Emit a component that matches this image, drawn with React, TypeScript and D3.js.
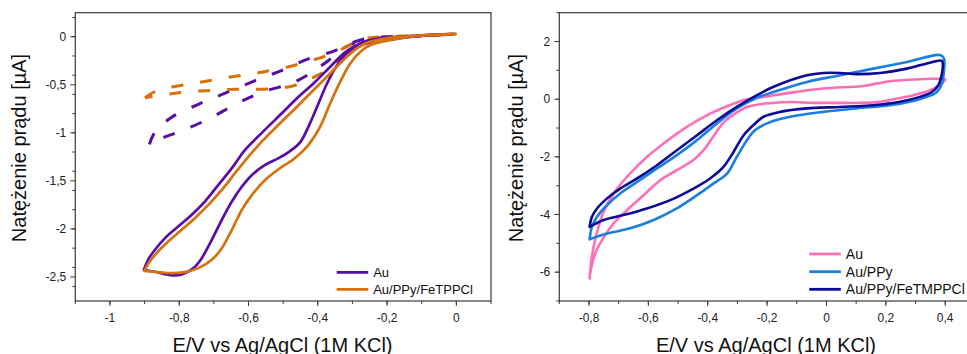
import React from 'react';
import * as d3 from 'd3';

type Pt = [number, number];

// ---------- tick labels ----------
const leftXTicks = [-1, -0.8, -0.6, -0.4, -0.2, 0];
const leftXTickLabels = ['-1', '-0,8', '-0,6', '-0,4', '-0,2', '0'];
const leftYTicks = [0, -0.5, -1, -1.5, -2, -2.5];
const leftYTickLabels = ['0', '-0,5', '-1', '-1,5', '-2', '-2,5'];
const rightXTicks = [-0.8, -0.6, -0.4, -0.2, 0, 0.2, 0.4];
const rightXTickLabels = ['-0,8', '-0,6', '-0,4', '-0,2', '0', '0,2', '0,4'];
const rightYTicks = [2, 0, -2, -4, -6];
const rightYTickLabels = ['2', '0', '-2', '-4', '-6'];

const leftLegend = ['Au', 'Au/PPy/FeTPPCl'];
const rightLegend = ['Au', 'Au/PPy', 'Au/PPy/FeTMPPCl'];
const yTitle = 'Natężenie prądu [µA]';
const xTitle = 'E/V vs Ag/AgCl (1M KCl)';

// ---------- left panel data ----------
const leftAuSolid: Pt[] = [
  [-0.902, -2.425], [-0.89, -2.321], [-0.87, -2.217], [-0.841, -2.096], [-0.803, -1.975],
  [-0.764, -1.853], [-0.726, -1.715], [-0.687, -1.541], [-0.648, -1.368], [-0.61, -1.178],
  [-0.56, -0.995], [-0.509, -0.815], [-0.46, -0.64], [-0.412, -0.484], [-0.364, -0.312],
  [-0.325, -0.173], [-0.296, -0.104], [-0.267, -0.052], [-0.219, -0.017], [-0.123, 0.007],
  [-0.007, 0.028],
  [-0.1, 0.012], [-0.2, -0.035], [-0.258, -0.069], [-0.287, -0.104], [-0.316, -0.173],
  [-0.344, -0.294], [-0.373, -0.484], [-0.402, -0.728], [-0.427, -0.936], [-0.451, -1.1],
  [-0.48, -1.19], [-0.513, -1.264], [-0.552, -1.334], [-0.59, -1.438], [-0.619, -1.559],
  [-0.648, -1.715], [-0.677, -1.905], [-0.706, -2.113], [-0.735, -2.304], [-0.759, -2.408],
  [-0.784, -2.46], [-0.812, -2.484], [-0.832, -2.477], [-0.87, -2.446], [-0.902, -2.425],
];
const leftFeSolid: Pt[] = [
  [-0.901, -2.436], [-0.885, -2.339], [-0.861, -2.235], [-0.832, -2.131], [-0.793, -2.009],
  [-0.755, -1.888], [-0.716, -1.75], [-0.677, -1.594], [-0.639, -1.42], [-0.6, -1.247],
  [-0.557, -1.074], [-0.509, -0.9], [-0.46, -0.728], [-0.412, -0.554], [-0.364, -0.38],
  [-0.316, -0.208], [-0.287, -0.121], [-0.258, -0.062], [-0.2, -0.017], [-0.104, 0.01],
  [-0.002, 0.028],
  [-0.1, 0.015], [-0.2, -0.04], [-0.248, -0.086], [-0.277, -0.156], [-0.306, -0.277],
  [-0.335, -0.468], [-0.364, -0.692], [-0.393, -0.936], [-0.428, -1.13], [-0.468, -1.27],
  [-0.506, -1.36], [-0.552, -1.49], [-0.59, -1.646], [-0.619, -1.801], [-0.648, -2.009],
  [-0.677, -2.2], [-0.706, -2.321], [-0.745, -2.408], [-0.784, -2.449], [-0.822, -2.46],
  [-0.861, -2.449], [-0.901, -2.436],
];
const leftAuDashed: Pt[] = [
  [-0.886, -1.12], [-0.875, -1.022], [-0.85, -0.92], [-0.822, -0.838], [-0.745, -0.703],
  [-0.668, -0.588], [-0.586, -0.464], [-0.509, -0.357], [-0.431, -0.235], [-0.354, -0.149],
  [-0.3, -0.06], [-0.258, -0.017], [-0.2, 0.0], [-0.1, 0.007], [-0.005, 0.028],
  [-0.1, 0.01], [-0.2, -0.005], [-0.27, -0.04], [-0.31, -0.09], [-0.34, -0.15],
  [-0.37, -0.25], [-0.402, -0.33], [-0.43, -0.4], [-0.465, -0.468], [-0.489, -0.502],
  [-0.559, -0.575], [-0.636, -0.7], [-0.708, -0.842], [-0.786, -0.97], [-0.851, -1.057],
  [-0.88, -1.115],
];
const leftFeDashed: Pt[] = [
  [-0.899, -0.634], [-0.875, -0.58], [-0.851, -0.544], [-0.817, -0.52], [-0.745, -0.478],
  [-0.658, -0.422], [-0.571, -0.374], [-0.484, -0.312], [-0.398, -0.225], [-0.349, -0.16],
  [-0.306, -0.086], [-0.258, -0.017], [-0.2, 0.0], [-0.1, 0.01], [-0.002, 0.028],
  [-0.1, 0.012], [-0.2, -0.01], [-0.26, -0.05], [-0.3, -0.12], [-0.33, -0.22],
  [-0.359, -0.32], [-0.4, -0.4], [-0.437, -0.465], [-0.47, -0.51], [-0.509, -0.536],
  [-0.542, -0.544], [-0.595, -0.547], [-0.634, -0.547], [-0.687, -0.554], [-0.721, -0.561],
  [-0.779, -0.572], [-0.812, -0.588], [-0.865, -0.616], [-0.899, -0.634],
];

// ---------- right panel data ----------
const rightAu: Pt[] = [
  [-0.798, -6.215], [-0.792, -5.58], [-0.782, -5.0], [-0.768, -4.43], [-0.751, -3.91],
  [-0.717, -3.27], [-0.672, -2.69], [-0.616, -2.11], [-0.549, -1.54], [-0.47, -0.96],
  [-0.392, -0.5], [-0.324, -0.2], [-0.279, -0.035], [-0.212, 0.081], [-0.1, 0.254],
  [-0.01, 0.37], [0.125, 0.46], [0.17, 0.543], [0.214, 0.624], [0.293, 0.685],
  [0.36, 0.71], [0.394, 0.7],
  [0.4, 0.68], [0.385, 0.52], [0.372, 0.428], [0.349, 0.312], [0.315, 0.197],
  [0.293, 0.139], [0.237, 0.023], [0.181, -0.092], [0.1, -0.13], [0.046, -0.127],
  [-0.044, -0.127], [-0.122, -0.1], [-0.19, -0.14], [-0.234, -0.19], [-0.27, -0.28],
  [-0.302, -0.46], [-0.347, -0.81], [-0.38, -1.28], [-0.414, -1.77], [-0.448, -2.11],
  [-0.504, -2.46], [-0.56, -2.81], [-0.616, -3.33], [-0.672, -3.85], [-0.717, -4.31],
  [-0.756, -4.89], [-0.779, -5.35], [-0.796, -6.04], [-0.798, -6.215],
];
const rightPPy: Pt[] = [
  [-0.798, -4.86], [-0.79, -4.43], [-0.773, -4.08], [-0.739, -3.67], [-0.695, -3.27],
  [-0.638, -2.87], [-0.571, -2.4], [-0.504, -1.94], [-0.436, -1.42], [-0.369, -0.84],
  [-0.302, -0.32], [-0.234, 0.05], [-0.178, 0.25], [-0.066, 0.6], [0.046, 0.83],
  [0.158, 1.06], [0.271, 1.29], [0.383, 1.53],
  [0.396, 1.4], [0.396, 1.01], [0.389, 0.54], [0.372, 0.25], [0.338, 0.08],
  [0.293, -0.06], [0.214, -0.21], [0.102, -0.32], [-0.01, -0.44], [-0.122, -0.61],
  [-0.196, -0.82], [-0.24, -1.07], [-0.268, -1.42], [-0.302, -2.0], [-0.335, -2.58],
  [-0.38, -2.92], [-0.436, -3.33], [-0.504, -3.79], [-0.582, -4.19], [-0.661, -4.48],
  [-0.739, -4.66], [-0.798, -4.86],
];
const rightFe: Pt[] = [
  [-0.798, -4.43], [-0.79, -4.08], [-0.773, -3.79], [-0.739, -3.44], [-0.695, -3.1],
  [-0.638, -2.75], [-0.571, -2.29], [-0.504, -1.77], [-0.436, -1.25], [-0.369, -0.73],
  [-0.302, -0.27], [-0.234, 0.14], [-0.178, 0.43], [-0.066, 0.83], [-0.01, 0.91],
  [0.046, 0.91], [0.102, 0.87], [0.181, 0.91], [0.271, 1.06], [0.338, 1.24],
  [0.389, 1.33],
  [0.392, 1.2], [0.389, 0.89], [0.377, 0.49], [0.355, 0.25], [0.315, 0.08],
  [0.248, -0.09], [0.158, -0.21], [0.046, -0.27], [-0.066, -0.32], [-0.156, -0.44],
  [-0.212, -0.61], [-0.242, -0.86], [-0.279, -1.25], [-0.313, -1.83], [-0.347, -2.35],
  [-0.392, -2.75], [-0.448, -3.1], [-0.526, -3.5], [-0.605, -3.79], [-0.684, -4.02],
  [-0.751, -4.19], [-0.798, -4.43],
];

const C_PURPLE = '#5a0ca6';
const C_ORANGE = '#d8710c';
const C_PINK = '#ff6fb5';
const C_BLUE = '#1b7fe0';
const C_NAVY = '#0b0b98';

const FONT = "'Liberation Sans', Arial, sans-serif";

type Series = { data: Pt[]; color: string; dash?: string; width: number };

type PanelProps = {
  id: string;
  xr: [number, number];
  yr: [number, number];
  xDomain: [number, number];
  yDomain: [number, number];
  xTicks: number[];
  xLabels: string[];
  yTicks: number[];
  yLabels: string[];
  xMinorCount: number;
  yMinorCount: number;
  series: Series[];
  legendNames: string[];
  legendColors: string[];
  legendX: number;
  legendY: number[];
  legendFont: number;
  yTitleX: number;
  xTitleX: number;
};

function Panel(p: PanelProps) {
  const x = d3.scaleLinear().domain(p.xDomain).range(p.xr);
  const y = d3.scaleLinear().domain(p.yDomain).range(p.yr);
  const line = d3
    .line<Pt>()
    .x((d) => x(d[0]))
    .y((d) => y(d[1]))
    .curve(d3.curveCatmullRom.alpha(0.5));
  const [x0, x1] = p.xr;
  const [y0, y1] = p.yr; // y0 bottom, y1 top
  const xMinor = x.ticks(p.xMinorCount);
  const yMinor = y.ticks(p.yMinorCount);
  const axisColor = '#3a3a3a';
  return (
    <g>
      <defs>
        <clipPath id={p.id}>
          <rect x={x0} y={y1} width={x1 - x0} height={y0 - y1} />
        </clipPath>
      </defs>
      <g clipPath={`url(#${p.id})`}>
        {p.series.map((s, i) => (
          <path
            key={i}
            d={line(s.data) || ''}
            fill="none"
            stroke={s.color}
            strokeWidth={s.width}
            strokeDasharray={s.dash}
            strokeLinejoin="round"
            strokeLinecap={s.dash ? 'butt' : 'round'}
          />
        ))}
      </g>
      <rect x={x0} y={y1} width={x1 - x0} height={y0 - y1} fill="none" stroke={axisColor} strokeWidth={1.2} />
      {xMinor.map((t, i) => (
        <line key={'xm' + i} x1={x(t)} x2={x(t)} y1={y0} y2={y0 + 3} stroke={axisColor} strokeWidth={1} />
      ))}
      {p.xTicks.map((t, i) => (
        <g key={'xt' + i}>
          <line x1={x(t)} x2={x(t)} y1={y0} y2={y0 + 5} stroke={axisColor} strokeWidth={1} />
          <text x={x(t)} y={y0 + 20.5} textAnchor="middle" fontFamily={FONT} fontSize={12} fill="#222">
            {p.xLabels[i]}
          </text>
        </g>
      ))}
      {yMinor.map((t, i) => (
        <line key={'ym' + i} x1={x0 - 3} x2={x0} y1={y(t)} y2={y(t)} stroke={axisColor} strokeWidth={1} />
      ))}
      {p.yTicks.map((t, i) => (
        <g key={'yt' + i}>
          <line x1={x0 - 5} x2={x0} y1={y(t)} y2={y(t)} stroke={axisColor} strokeWidth={1} />
          <text x={x0 - 9} y={y(t) + 4.2} textAnchor="end" fontFamily={FONT} fontSize={12} fill="#222">
            {p.yLabels[i]}
          </text>
        </g>
      ))}
      <text
        transform={`translate(${p.yTitleX},148) rotate(-90)`}
        textAnchor="middle"
        fontFamily={FONT}
        fontSize={20}
        fill="#111"
      >
        {yTitle}
      </text>
      <text x={p.xTitleX} y={351.5} textAnchor="middle" fontFamily={FONT} fontSize={20} fill="#111">
        {xTitle}
      </text>
      {p.legendNames.map((n, i) => (
        <g key={'lg' + i}>
          <line
            x1={p.legendX}
            x2={p.legendX + 31.5}
            y1={p.legendY[i]}
            y2={p.legendY[i]}
            stroke={p.legendColors[i]}
            strokeWidth={2.8}
          />
          <text
            x={p.legendX + 36.5}
            y={p.legendY[i] + p.legendFont * 0.35}
            fontFamily={FONT}
            fontSize={p.legendFont}
            fill="#111"
          >
            {n}
          </text>
        </g>
      ))}
    </g>
  );
}

export default function App() {
  return (
    <svg
      width={967}
      height={354}
      viewBox="0 0 967 354"
      style={{ position: 'absolute', left: 0, top: 0, background: '#fff' }}
    >
      <rect x={0} y={0} width={967} height={354} fill="#fff" />
      <Panel
        id="clipL"
        xr={[75.3, 491]}
        yr={[301, 12.7]}
        xDomain={[-1.1, 0.1]}
        yDomain={[-2.75, 0.25]}
        xTicks={leftXTicks}
        xLabels={leftXTickLabels}
        yTicks={leftYTicks}
        yLabels={leftYTickLabels}
        xMinorCount={12}
        yMinorCount={12}
        series={[
          { data: leftAuDashed, color: C_PURPLE, dash: '12 17', width: 3 },
          { data: leftFeDashed, color: C_ORANGE, dash: '12 17', width: 3 },
          { data: leftAuSolid, color: C_PURPLE, width: 2.7 },
          { data: leftFeSolid, color: C_ORANGE, width: 2.7 },
        ]}
        legendNames={leftLegend}
        legendColors={[C_PURPLE, C_ORANGE]}
        legendX={336.7}
        legendY={[272.3, 289.3]}
        legendFont={13}
        yTitleX={26}
        xTitleX={282.5}
      />
      <Panel
        id="clipR"
        xr={[559.3, 974.9]}
        yr={[301, 12.7]}
        xDomain={[-0.9, 0.5]}
        yDomain={[-7, 3]}
        xTicks={rightXTicks}
        xLabels={rightXTickLabels}
        yTicks={rightYTicks}
        yLabels={rightYTickLabels}
        xMinorCount={14}
        yMinorCount={10}
        series={[
          { data: rightAu, color: C_PINK, width: 2.6 },
          { data: rightPPy, color: C_BLUE, width: 2.6 },
          { data: rightFe, color: C_NAVY, width: 2.6 },
        ]}
        legendNames={rightLegend}
        legendColors={[C_PINK, C_BLUE, C_NAVY]}
        legendX={809.3}
        legendY={[254, 271.7, 289.3]}
        legendFont={14}
        yTitleX={523}
        xTitleX={766}
      />
    </svg>
  );
}
